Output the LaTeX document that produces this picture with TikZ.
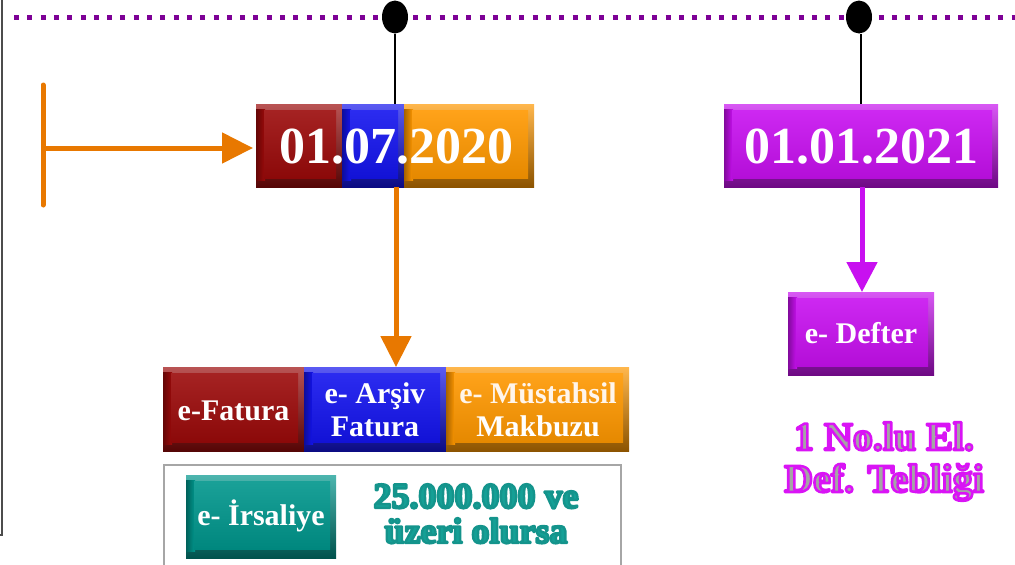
\documentclass[tikz,border=0pt]{standalone}
\usepackage{fontspec}
\setmainfont{Liberation Serif}
\usetikzlibrary{arrows.meta,shapes.geometric,calc}
\definecolor{dred}{RGB}{155,10,10}
\definecolor{dblue}{RGB}{20,20,238}
\definecolor{dorange}{RGB}{255,152,0}
\definecolor{dpurple}{RGB}{200,16,240}
\definecolor{dteal}{RGB}{0,150,140}
\definecolor{arrowor}{RGB}{232,120,0}
\definecolor{dotpurple}{RGB}{125,0,150}
\definecolor{tealtext}{RGB}{20,160,150}
\definecolor{graytext}{RGB}{165,165,165}
% #1 stroke width, #2 stroke colour as "r g b", #3 text
\newcommand{\strokedtext}[3]{\special{pdf:literal direct 2 Tr #1 w 1 j #2 RG}#3\special{pdf:literal direct 0 Tr}}
\begin{document}
\begin{tikzpicture}[x=1pt,y=-1pt,
  bev/.style={inner sep=0pt, outer sep=0pt, fill=#1, path picture={
     \shade[top color=#1!70!white, bottom color=#1!55!black]
        (path picture bounding box.south west) rectangle (path picture bounding box.north east);
     \shade[left color=#1!65!black, right color=#1]
        ([yshift=7pt]path picture bounding box.south west) rectangle ([xshift=9pt,yshift=-5pt]path picture bounding box.north west);
     \shade[top color=#1!90!white, bottom color=#1!90!black]
        ([xshift=8pt,yshift=9pt]path picture bounding box.south west) rectangle ([xshift=-6pt,yshift=-6pt]path picture bounding box.north east);
  }},
  txt/.style={inner sep=0pt, outer sep=0pt, anchor=base, text=white, font=\bfseries},
  big/.style={font=\fontsize{52}{52}\selectfont\bfseries},
  mid/.style={font=\fontsize{30}{30}\selectfont\bfseries},
  orarrow/.style={draw=arrowor, line width=5pt, -{Triangle[length=31pt,width=30pt]}},
  purarrow/.style={draw=dpurple, line width=5pt, -{Triangle[length=30pt,width=30pt]}},
  pin/.style={ellipse, fill=black, inner sep=0pt, minimum width=26pt, minimum height=33pt},
]
\useasboundingbox (0,0) rectangle (1015,565);

% frame line on the left
\coordinate (lt) at (2,0);
\coordinate (lb) at (2,535);
\coordinate (lc) at (0,535);
\draw[black!70, line width=1.8pt] (lt) -- (lb) -- (lc);

% dotted timeline
\coordinate (dl) at (14,17);
\coordinate (dr) at (1015,17);
\draw[dotpurple, line width=5pt, dash pattern=on 5pt off 8.3pt] (dl) -- (dr);

% date boxes
\node[bev=dred, minimum width=86pt, minimum height=83pt] (r1) at (299,145.5) {};
\node[bev=dblue, minimum width=62pt, minimum height=83pt] (b1) at (373,145.5) {};
\node[bev=dorange, minimum width=130pt, minimum height=83pt] (o1) at (469,145.5) {};
\node[txt, big] (t1) at (396,163) {01.07.2020};

\node[bev=dpurple, minimum width=274pt, minimum height=83pt] (p1) at (861,145.5) {};
\node[txt, big] (t2) at (861,163) {01.01.2021};

% pins
\node[pin] (dot1) at (395,17) {};
\node[pin] (dot2) at (859,17) {};
\draw[black, line width=2pt] (dot1.south) -- (dot1.south |- b1.north);
\draw[black, line width=2pt] ([xshift=1.5pt]dot2.south) -- ([xshift=1.5pt]dot2.south |- p1.north);

% left bar and arrow
\coordinate (bt) at (43,85);
\coordinate (bb) at (43,205);
\coordinate (hs) at (43,148);
\draw[arrowor, line width=5pt, line cap=round] (bt) -- (bb);
\draw[orarrow, shorten >=3pt] (hs) -- (hs -| r1.west);

% row of three boxes
\node[bev=dred, minimum width=141pt, minimum height=84pt] (ef) at (233.5,409) {};
\node[bev=dblue, minimum width=142pt, minimum height=84pt] (ea) at (375,409) {};
\node[bev=dorange, minimum width=183pt, minimum height=84pt] (em) at (537.5,409) {};
\node[txt, mid] (efT) at (233.5,420) {e-Fatura};
\node[txt, mid] (eaT1) at (375,403) {e- Arşiv};
\node[txt, mid] (eaT2) at (375,436) {Fatura};
\node[txt, mid, text=white!92!orange] (emT1) at (538,403) {e- Müstahsil};
\node[txt, mid] (emT2) at (538,436) {Makbuzu};

% down arrow 01.07.2020 -> row
\draw[orarrow] ([xshift=1pt]dot1.south |- b1.south) -- ([xshift=1pt]dot1.south |- ea.north);

% e-Defter
\node[bev=dpurple, minimum width=146pt, minimum height=83pt] (ed) at (861,333.5) {};
\node[txt, mid] (edT) at (861,343) {e- Defter};
\draw[purarrow] ([xshift=1pt]p1.south) -- ([xshift=1pt]ed.north);

% grey box with e-Irsaliye
\node[draw=black!35, line width=1.3pt, inner sep=0pt, minimum width=457pt, minimum height=120pt] (gb) at (392.5,525) {};
\node[bev=dteal, minimum width=150pt, minimum height=83pt] (ei) at (261,516.5) {};
\node[txt, mid] (eiT) at (261,525) {e- İrsaliye};
\node[txt, text=tealtext, font=\fontsize{36}{36}\selectfont\bfseries] (tq1) at (476,508) {\strokedtext{2.4}{0.08 0.58 0.55}{25.000.000 ve}};
\node[txt, text=tealtext, font=\fontsize{36}{36}\selectfont\bfseries] (tq2) at (476,543) {\strokedtext{2.4}{0.08 0.58 0.55}{üzeri olursa}};

% tebligi text
\node[txt, text=graytext, font=\fontsize{40}{40}\selectfont\bfseries] (nl1) at (884,450) {\strokedtext{2.6}{0.85 0.08 0.96}{1 No.lu El.}};
\node[txt, text=graytext, font=\fontsize{40}{40}\selectfont\bfseries] (nl2) at (884,492) {\strokedtext{2.6}{0.85 0.08 0.96}{Def. Tebliği}};
\end{tikzpicture}
\end{document}
